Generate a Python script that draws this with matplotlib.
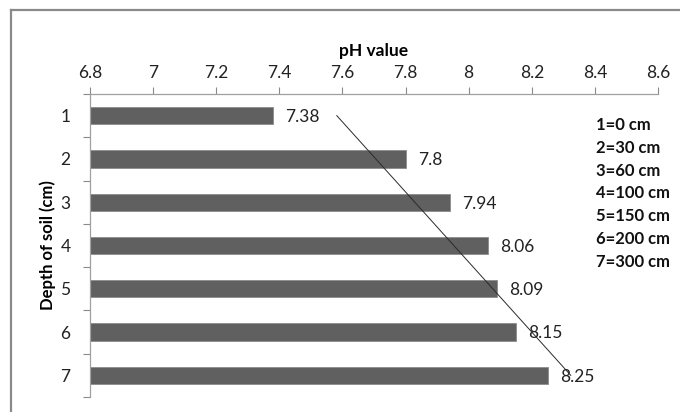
import numpy as np
import matplotlib
matplotlib.use("Agg")
import matplotlib.pyplot as plt
from matplotlib.lines import Line2D

plt.rcParams['font.family'] = ['Lato', 'DejaVu Sans']

# Soil pH by depth class
depth_class = [1, 2, 3, 4, 5, 6, 7]
ph_values = [7.38, 7.8, 7.94, 8.06, 8.09, 8.15, 8.25]
depth_key = ["1=0 cm", "2=30 cm", "3=60 cm", "4=100 cm",
             "5=150 cm", "6=200 cm", "7=300 cm"]
x_ticks = [6.8, 7.0, 7.2, 7.4, 7.6, 7.8, 8.0, 8.2, 8.4, 8.6]
x_tick_labels = ["6.8", "7", "7.2", "7.4", "7.6", "7.8", "8", "8.2", "8.4", "8.6"]

W, H = 680, 412
fig = plt.figure(figsize=(W / 100, H / 100), dpi=100)

# chart frame (top and left edges)
fx, fy = 11 / W, 1 - 10 / H
fig.lines.append(Line2D([fx, 1.0], [fy, fy], transform=fig.transFigure,
                        color="#8a8a8a", linewidth=1.6))
fig.lines.append(Line2D([fx, fx], [0.0, fy], transform=fig.transFigure,
                        color="#8a8a8a", linewidth=1.6))

left, right, top, bottom = 90, 658, 94, 397
ax = fig.add_axes([left / W, 1 - bottom / H, (right - left) / W, (bottom - top) / H])

x0 = x_ticks[0]
ax.barh(depth_class, [v - x0 for v in ph_values], left=x0, height=0.4,
        color="#606060", edgecolor="#8c8c8c", linewidth=0.6, zorder=2)

for d, v in zip(depth_class, ph_values):
    ax.annotate(f"{v:g}", xy=(v, d), xytext=(9, -1), textcoords="offset points",
                ha="left", va="center", fontsize=12.5, color="#222222", zorder=4)

# linear trend of pH against depth class
slope, intercept = np.polyfit(depth_class, ph_values, 1)
yy = np.array([depth_class[0], depth_class[-1]])
ax.plot(slope * yy + intercept, yy, color="#2a2a2a", linewidth=0.7, zorder=3)

ax.set_xlim(x_ticks[0], x_ticks[-1])
ax.set_ylim(7.5, 0.5)
ax.xaxis.tick_top()
ax.xaxis.set_label_position("top")
ax.set_xticks(x_ticks)
ax.set_xticklabels(x_tick_labels)
ax.set_yticks(depth_class)
ax.set_yticklabels([str(d) for d in depth_class])
ax.set_yticks(np.arange(0.5, 7.6, 1.0), minor=True)

ax.tick_params(axis="x", which="major", direction="out", length=5, width=0.8,
               color="#8a8a8a", labelsize=12.5, labelcolor="#222222", pad=4)
ax.tick_params(axis="y", which="major", length=0, labelsize=12.5,
               labelcolor="#222222", pad=14)
ax.tick_params(axis="y", which="minor", direction="out", length=5, width=0.8,
               color="#8a8a8a")

for s in ["right", "bottom"]:
    ax.spines[s].set_visible(False)
for s in ["top", "left"]:
    ax.spines[s].set_color("#a0a0a0")
    ax.spines[s].set_linewidth(0.9)

ax.set_xlabel("pH value", fontsize=12.5, fontweight="bold", labelpad=7)
ax.set_ylabel("Depth of soil (cm)", fontsize=12, fontweight="bold", labelpad=3)

# depth key
for i, t in enumerate(depth_key):
    fig.text(596 / W, 1 - (125 + i * 22.8) / H, t, ha="left", va="center",
             fontsize=12, fontweight="bold", color="#111111")

fig.savefig("out.png", dpi=100)
